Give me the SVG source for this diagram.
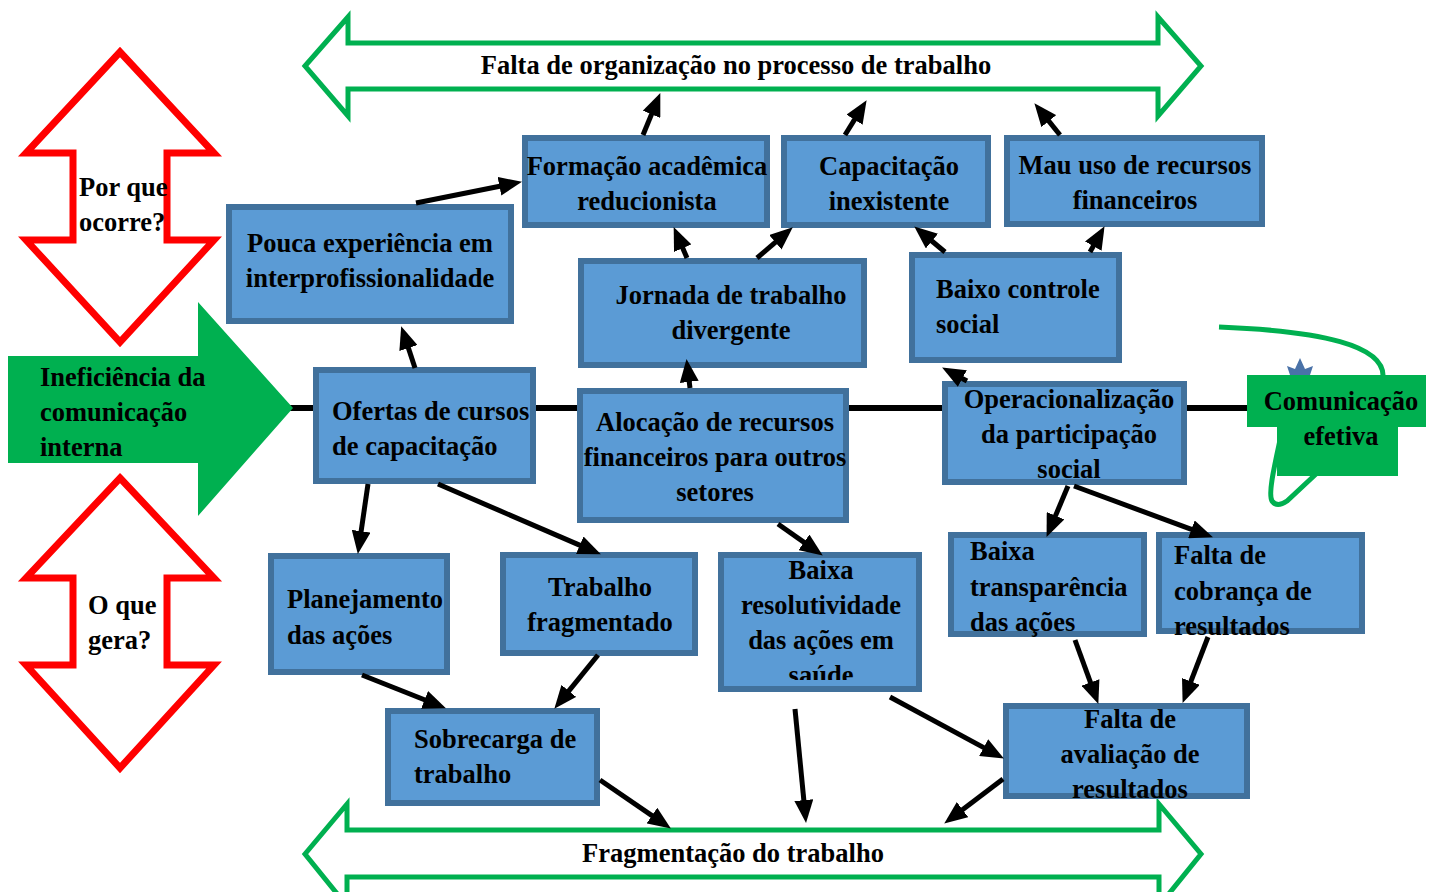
<svg xmlns="http://www.w3.org/2000/svg" width="1430" height="892" viewBox="0 0 1430 892">
<style>
.box{fill:#5B9BD5;stroke:#41719C;stroke-width:6}
.t{font-family:"Liberation Serif","Times New Roman",serif;font-weight:bold;font-size:26.5px;fill:#000;transform:translateY(1px)}
.m{text-anchor:middle}
.ga{fill:none;stroke:#00B050;stroke-width:5;stroke-linejoin:miter}
.ra{fill:none;stroke:#FF0000;stroke-width:7;stroke-linejoin:miter}
.c{stroke:#000;stroke-width:5;fill:none;marker-end:url(#ah)}
</style>
<defs>
<marker id="ah" markerUnits="userSpaceOnUse" markerWidth="23" markerHeight="19" refX="8" refY="9.5" orient="auto">
<path d="M0,0 L23,9.5 L0,19 Z" fill="#000"/>
</marker>
<clipPath id="clipRes"><rect x="718" y="552" width="204" height="128"/></clipPath>
</defs>
<rect width="1430" height="892" fill="#fff"/>

<g id="top-arrow">
<polygon class="ga" points="305,66 348,17 348,43 1158,43 1158,17 1201,66 1158,116 1158,89 348,89 348,116"/>
<text class="t m" x="736" y="73">Falta de organização no processo de trabalho</text>
</g>
<g id="bottom-arrow">
<polygon class="ga" points="305,854 347,804 347,830 1159,830 1159,804 1201,854 1159,906 1159,877 347,877 347,906"/>
<text class="t m" x="733" y="861">Fragmentação do trabalho</text>
</g>
<g id="why-arrow">
<polygon class="ra" points="120,52 214,153 167,153 167,240 214,240 120,342 26,240 73,240 73,153 26,153"/>
<text class="t" x="79" y="195">Por que</text>
<text class="t" x="79" y="230">ocorre?</text>
</g>
<g id="what-arrow">
<polygon class="ra" points="120,478 214,578 167,578 167,665 214,665 120,768 26,665 73,665 73,578 26,578"/>
<text class="t" x="88" y="613">O que</text>
<text class="t" x="88" y="648">gera?</text>
</g>

<g id="spine">
<line x1="290" y1="408" x2="1250" y2="408" stroke="#000" stroke-width="6"/>
</g>

<g id="ineficiencia">
<polygon points="8,356 198,356 198,302 293,408 198,516 198,463 8,463" fill="#00B050"/>
<text class="t" x="40" y="385">Ineficiência da</text>
<text class="t" x="40" y="420">comunicação</text>
<text class="t" x="40" y="455">interna</text>
</g>

<g id="comunicacao">
<path class="ga" d="M1219,327 C1320,331 1386,345 1383,378"/>
<polygon points="1287,366 1295,369 1300,358 1305,369 1313,366 1309,378 1291,378" fill="#4A72A8"/>
<path class="ga" d="M1280,440 C1274,468 1268,494 1272,501 Q1277,508 1287,501 L1316,474"/>
<rect x="1247" y="375" width="179" height="52" fill="#00B050"/>
<rect x="1277" y="426" width="121" height="50" fill="#00B050"/>
<text class="t m" x="1341" y="409">Comunicação</text>
<text class="t m" x="1341" y="444">efetiva</text>
</g>

<g id="pouca">
<rect class="box" x="229" y="207" width="282" height="114"/>
<text class="t m" x="370" y="251">Pouca experiência em</text>
<text class="t m" x="370" y="286">interprofissionalidade</text>
</g>
<g id="formacao">
<rect class="box" x="525" y="138" width="242" height="87"/>
<text class="t m" x="647" y="174">Formação acadêmica</text>
<text class="t m" x="647" y="209">reducionista</text>
</g>
<g id="capacitacao">
<rect class="box" x="784" y="138" width="204" height="87"/>
<text class="t m" x="889" y="174">Capacitação</text>
<text class="t m" x="889" y="209">inexistente</text>
</g>
<g id="mauuso">
<rect class="box" x="1007" y="138" width="255" height="86"/>
<text class="t m" x="1135" y="173">Mau uso de recursos</text>
<text class="t m" x="1135" y="208">financeiros</text>
</g>
<g id="jornada">
<rect class="box" x="581" y="261" width="283" height="104"/>
<text class="t m" x="731" y="303">Jornada de trabalho</text>
<text class="t m" x="731" y="338">divergente</text>
</g>
<g id="baixocontrole">
<rect class="box" x="912" y="255" width="207" height="105"/>
<text class="t" x="936" y="297">Baixo controle</text>
<text class="t" x="936" y="332">social</text>
</g>
<g id="ofertas">
<rect class="box" x="316" y="370" width="217" height="111"/>
<text class="t" x="332" y="419">Ofertas de cursos</text>
<text class="t" x="332" y="454">de capacitação</text>
</g>
<g id="alocacao">
<rect class="box" x="580" y="391" width="266" height="129"/>
<text class="t m" x="715" y="430">Alocação de recursos</text>
<text class="t m" x="715" y="465">financeiros para outros</text>
<text class="t m" x="715" y="500">setores</text>
</g>
<g id="operacionalizacao">
<rect class="box" x="945" y="384" width="239" height="98"/>
<text class="t m" x="1069" y="407">Operacionalização</text>
<text class="t m" x="1069" y="442">da participação</text>
<text class="t m" x="1069" y="477">social</text>
</g>
<g id="planejamento">
<rect class="box" x="271" y="556" width="176" height="116"/>
<text class="t" x="287" y="607">Planejamento</text>
<text class="t" x="287" y="643">das ações</text>
</g>
<g id="trabalhofrag">
<rect class="box" x="503" y="555" width="192" height="98"/>
<text class="t m" x="600" y="595">Trabalho</text>
<text class="t m" x="600" y="630">fragmentado</text>
</g>
<g id="resolutividade">
<rect class="box" x="721" y="555" width="198" height="134"/>
<g clip-path="url(#clipRes)">
<text class="t m" x="821" y="578">Baixa</text>
<text class="t m" x="821" y="613">resolutividade</text>
<text class="t m" x="821" y="648">das ações em</text>
<text class="t m" x="821" y="683">saúde</text>
</g>
</g>
<g id="transparencia">
<rect class="box" x="951" y="535" width="193" height="99"/>
<text class="t" x="970" y="559">Baixa</text>
<text class="t" x="970" y="595">transparência</text>
<text class="t" x="970" y="630">das ações</text>
</g>
<g id="cobranca">
<rect class="box" x="1159" y="535" width="203" height="96"/>
<text class="t" x="1174" y="563">Falta de</text>
<text class="t" x="1174" y="599">cobrança de</text>
<text class="t" x="1174" y="634">resultados</text>
</g>
<g id="avaliacao">
<rect class="box" x="1006" y="706" width="241" height="90"/>
<text class="t m" x="1130" y="727">Falta de</text>
<text class="t m" x="1130" y="762">avaliação de</text>
<text class="t m" x="1130" y="797">resultados</text>
</g>
<g id="sobrecarga">
<rect class="box" x="388" y="711" width="209" height="92"/>
<text class="t" x="414" y="747">Sobrecarga de</text>
<text class="t" x="414" y="782">trabalho</text>
</g>

<g id="connectors">
<line class="c" x1="416" y1="203" x2="507.3" y2="184.7"/>
<line class="c" x1="643" y1="135" x2="654.6" y2="106.9"/>
<line class="c" x1="845" y1="135" x2="858.7" y2="112.9"/>
<line class="c" x1="1060" y1="135" x2="1043.8" y2="114.9"/>
<line class="c" x1="687" y1="258" x2="679.6" y2="240.8"/>
<line class="c" x1="757" y1="258" x2="781.4" y2="237.1"/>
<line class="c" x1="945" y1="252" x2="925.8" y2="236"/>
<line class="c" x1="1090" y1="252" x2="1097.2" y2="239.2"/>
<line class="c" x1="415" y1="368" x2="405.9" y2="340.4"/>
<line class="c" x1="690" y1="388" x2="688.3" y2="373.9"/>
<line class="c" x1="967" y1="381" x2="955.3" y2="374.7"/>
<line class="c" x1="368" y1="484" x2="360" y2="539.1"/>
<line class="c" x1="438" y1="484" x2="587.1" y2="548.4"/>
<line class="c" x1="778" y1="524" x2="810.5" y2="546.9"/>
<line class="c" x1="362" y1="675" x2="432" y2="702.8"/>
<line class="c" x1="598" y1="655" x2="563.8" y2="697.1"/>
<line class="c" x1="600" y1="780" x2="658.5" y2="820.1"/>
<line class="c" x1="795" y1="709" x2="804.6" y2="808.1"/>
<line class="c" x1="890" y1="697" x2="990.7" y2="751.4"/>
<line class="c" x1="1003" y1="779" x2="956.2" y2="814.5"/>
<line class="c" x1="1068" y1="486" x2="1052.4" y2="523.1"/>
<line class="c" x1="1074" y1="486" x2="1198.9" y2="532.1"/>
<line class="c" x1="1075" y1="640" x2="1093.2" y2="689.9"/>
<line class="c" x1="1208" y1="637" x2="1188" y2="688.9"/>
</g>
</svg>
